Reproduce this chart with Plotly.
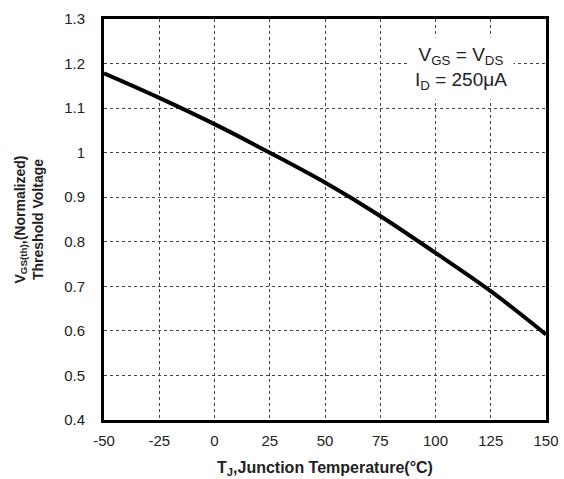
import plotly.graph_objects as go

temps = [-50, -25, 0, 25, 50, 75, 100, 125, 150]
vth_norm = [1.178, 1.123, 1.064, 1.0, 0.933, 0.858, 0.775, 0.689, 0.592]
x_ticks = [-50, -25, 0, 25, 50, 75, 100, 125, 150]
x_tick_text = ["-50", "-25", "0", "25", "50", "75", "100", "125", "150"]
y_ticks = [0.4, 0.5, 0.6, 0.7, 0.8, 0.9, 1.0, 1.1, 1.2, 1.3]
y_tick_text = ["0.4", "0.5", "0.6", "0.7", "0.8", "0.9", "1", "1.1", "1.2", "1.3"]

fig = go.Figure()
fig.add_trace(go.Scatter(
    x=temps, y=vth_norm, mode="lines",
    line=dict(color="black", width=4, shape="spline", smoothing=1.0),
    showlegend=False, cliponaxis=True,
))

font = "Liberation Sans, Arial, sans-serif"
axis_common = dict(
    showline=True, linecolor="black", linewidth=3, mirror=True,
    showgrid=True, gridcolor="#444444", gridwidth=1, griddash="dot",
    zeroline=False, ticks="", automargin=False,
    tickfont=dict(family=font, size=15, color="#222"),
)

fig.update_layout(
    width=564, height=479,
    margin=dict(l=104, r=18, t=19, b=59, autoexpand=False),
    paper_bgcolor="white", plot_bgcolor="white",
    xaxis=dict(range=[-50, 150], tickvals=x_ticks, ticktext=x_tick_text,
               ticklabelstandoff=5, **axis_common,
               title=dict(text="<b>T<sub>J</sub>,Junction Temperature(°C)</b>",
                          font=dict(family=font, size=16, color="#222"), standoff=14)),
    yaxis=dict(range=[0.4, 1.3], tickvals=y_ticks, ticktext=y_tick_text,
               ticklabelstandoff=13, **axis_common,
               title=dict(text="<b>V<sub>GS(th)</sub>,(Normalized)<br>Threshold Voltage</b>",
                          font=dict(family=font, size=14, color="#222"), standoff=18)),
    annotations=[dict(
        x=111.5, y=1.19, xref="x", yref="y", xanchor="center", yanchor="middle",
        text="V<sub>GS</sub> = V<sub>DS</sub><br>I<sub>D</sub> = 250μA",
        showarrow=False, bgcolor="white", borderpad=6,
        font=dict(family=font, size=19, color="#222"), align="center",
    )],
)
fig.write_html("out.html")
